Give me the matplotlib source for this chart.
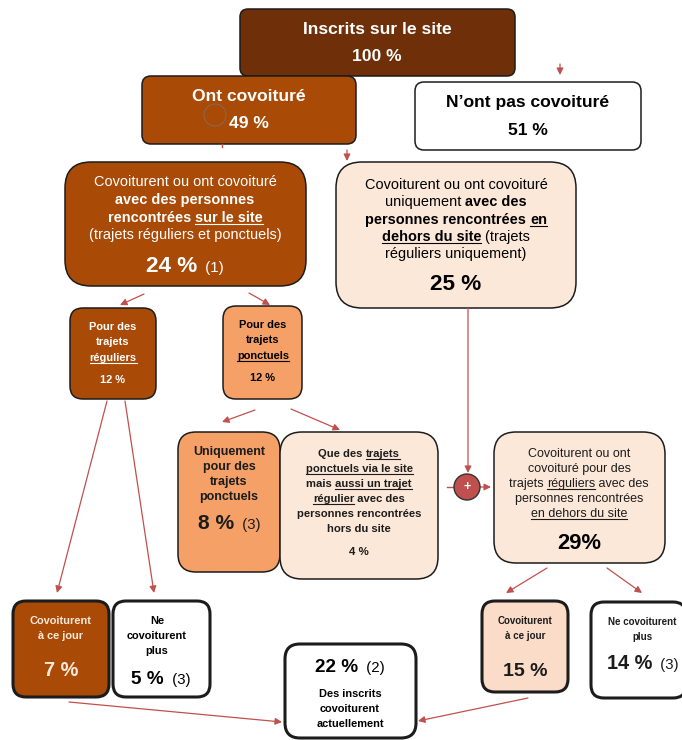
import re
import matplotlib.pyplot as plt
from matplotlib.patches import FancyBboxPatch, FancyArrowPatch, Circle
from matplotlib.font_manager import FontProperties

plt.rcParams['font.family'] = ['Liberation Sans', 'DejaVu Sans']

# percentages shown in the boxes
pct_top = [100, 49, 51]
pct_mid = [24, 25]
pct_trips = [12, 12]
pct_ponct = [8, 4]
pct_outside = 29
pct_end = [7, 5, 15, 14]
pct_now = 22

# box texts, ** toggles bold and __ toggles underline
txt_inscrits = ["Inscrits sur le site"]
txt_ont = ["Ont covoituré"]
txt_nont = ["N’ont pas covoituré"]
txt_site = ["Covoiturent ou ont covoituré", "**avec des personnes**",
            "**rencontrées __sur le site__**", "(trajets réguliers et ponctuels)"]
txt_hors = ["Covoiturent ou ont covoituré", "uniquement **avec des**",
            "**personnes rencontrées __en__**", "**__dehors du site__** (trajets",
            "réguliers uniquement)"]
txt_reg = ["Pour des", "trajets", "__réguliers__"]
txt_pon = ["Pour des", "trajets", "__ponctuels__"]
txt_uniq = ["Uniquement", "pour des", "trajets", "ponctuels"]
txt_que = ["Que des __trajets__", "__ponctuels via le site__", "mais __aussi un trajet__",
           "__régulier__ avec des", "personnes rencontrées", "hors du site"]
txt_29 = ["Covoiturent ou ont", "covoituré pour des", "trajets __réguliers__ avec des",
          "personnes rencontrées", "__en dehors du site__"]
txt_jour = ["Covoiturent", "à ce jour"]
txt_ne = ["Ne", "covoiturent", "plus"]
txt_ne2 = ["Ne covoiturent", "plus"]
txt_act = ["Des inscrits", "covoiturent", "actuellement"]

DARK = '#6f3009'
BROWN = '#a94a07'
ORANGE = '#f4a067'
PALE = '#fce8d9'
PEACH = '#fbdcc9'
RED = '#c0504d'

fig = plt.figure(figsize=(6.82, 7.40), dpi=100)
ax = fig.add_axes([0, 0, 1, 1])
ax.set_xlim(0, 682)
ax.set_ylim(740, 0)
ax.axis('off')
renderer = fig.canvas.get_renderer()


def px_width(s, size, bold):
    # bars on both sides so that the spaces at the ends are counted
    fp = FontProperties(family='Liberation Sans', size=size * 0.72, weight='bold' if bold else 'normal')
    w = renderer.get_text_width_height_descent('|' + s + '|', fp, False)[0]
    w0 = renderer.get_text_width_height_descent('||', fp, False)[0]
    return w - w0


def write(cx, y, line, size, color='black', bold=False, note=None):
    parts = re.split(r'(\*\*|__)', line)
    runs = []
    b, u = bold, False
    for p in parts:
        if p == '**':
            b = not b
        elif p == '__':
            u = not u
        elif p:
            runs.append((p, b, u, size))
    if note:
        runs.append(('  ' + note, False, False, 15))
    widths = [px_width(r[0], r[3], r[1]) for r in runs]
    x = cx - sum(widths) / 2
    for (s, b, u, sz), w in zip(runs, widths):
        ax.text(x, y, s, fontsize=sz * 0.72, color=color, va='baseline', ha='left',
                fontweight='bold' if b else 'normal')
        if u:
            ax.plot([x, x + w], [y + 2, y + 2], color=color, lw=0.8)
        x += w


def box(x0, y0, x1, y1, fill, r=14, lw=1.1):
    ax.add_patch(FancyBboxPatch((x0, y0), x1 - x0, y1 - y0, boxstyle=f'round,pad=0,rounding_size={r}',
                                facecolor=fill, edgecolor='#1c1c1c', linewidth=lw))


def arrow(x0, y0, x1, y1):
    ax.add_patch(FancyArrowPatch((x0, y0), (x1, y1), arrowstyle='-|>', mutation_scale=10, color=RED,
                                 lw=0.9, shrinkA=0, shrinkB=0, zorder=3))


def lines(cx, ys, texts, size, color='black', bold=False):
    for y, t in zip(ys, texts):
        write(cx, y, t, size, color, bold)


# first rows
box(240, 9, 515, 76, DARK, r=8)
lines(377, [34], txt_inscrits, 17.5, 'white', True)
write(377, 61, f"{pct_top[0]} %", 17.5, 'white', True)

box(142, 76, 356, 144, BROWN, r=9)
lines(249, [101], txt_ont, 17.5, 'white', True)
write(249, 128, f"{pct_top[1]} %", 17.5, 'white', True)
ax.add_patch(Circle((215, 115), 11, facecolor='none', edgecolor='#8a6a55', lw=0.7))

box(415, 82, 641, 150, 'white', r=9)
lines(528, [107], txt_nont, 17.5, 'black', True)
write(528, 135, f"{pct_top[2]} %", 17.5, 'black', True)

box(65, 162, 306, 286, BROWN, r=26)
lines(185, [186, 204, 222, 239], txt_site, 14.5, 'white')
write(185, 272, f"{pct_mid[0]} %", 22.5, 'white', True, note='(1)')

box(336, 162, 576, 308, PALE, r=26)
lines(456, [189, 206, 224, 241, 258], txt_hors, 14.5)
write(456, 290, f"{pct_mid[1]} %", 22.5, 'black', True)

# regular / one-off trips
box(70, 308, 156, 399, BROWN, r=13)
lines(113, [330, 345, 361], txt_reg, 11, 'white', True)
write(113, 383, f"{pct_trips[0]} %", 11, 'white', True)

box(223, 306, 302, 399, ORANGE, r=13)
lines(263, [328, 343, 359], txt_pon, 11, 'black', True)
write(263, 381, f"{pct_trips[1]} %", 11, 'black', True)

box(178, 432, 280, 572, ORANGE, r=18)
lines(229, [455, 470, 485, 500], txt_uniq, 12.5, '#1c1c1c', True)
write(229.5, 529, f"{pct_ponct[0]} %", 21, '#1c1c1c', True, note='(3)')

box(280, 432, 438, 579, PALE, r=22)
lines(359, [457, 472, 487, 502, 517, 532], txt_que, 11.2, '#1c1c1c', True)
write(359, 555, f"{pct_ponct[1]} %", 11.5, '#1c1c1c', True)

box(494, 432, 665, 563, PALE, r=22)
lines(579, [457, 472, 487, 502, 517], txt_29, 12.5, '#1c1c1c')
write(579, 549, f"{pct_outside}%", 22, 'black', True)

# bottom row
box(13, 601, 109, 697, BROWN, r=13, lw=2.2)
lines(61, [624, 639], txt_jour, 11, '#fde9d9', True)
write(61, 676, f"{pct_end[0]} %", 20, '#fde9d9', True)

box(113, 601, 210, 697, 'white', r=13, lw=2.2)
lines(157, [624, 639, 654], txt_ne, 11, 'black', True)
write(161, 684, f"{pct_end[1]} %", 19, 'black', True, note='(3)')

box(285, 644, 416, 738, 'white', r=15, lw=2.2)
write(350, 672, f"{pct_now} %", 19, 'black', True, note='(2)')
lines(350, [697, 712, 727], txt_act, 11, 'black', True)

box(482, 601, 568, 692, PEACH, r=13, lw=2.2)
lines(525, [624, 639], txt_jour, 9.8, '#1c1c1c', True)
write(525, 676, f"{pct_end[2]} %", 19.5, '#1c1c1c', True)

box(591, 602, 686, 698, 'white', r=13, lw=2.2)
lines(642, [625, 640], txt_ne2, 9.8, '#1c1c1c', True)
write(643, 669, f"{pct_end[3]} %", 20, '#1c1c1c', True, note='(3)')

# arrows
arrow(560, 64, 560, 75)
arrow(347, 150, 347, 161)
ax.plot([222, 222], [144, 147], color=RED, lw=1)
arrow(144, 294, 120, 305)
arrow(249, 293, 270, 305)
arrow(107, 401, 57, 593)
arrow(125, 401, 154, 593)
arrow(255, 410, 222, 422)
arrow(291, 409, 340, 430)
arrow(468, 308, 468, 473)
ax.plot([447, 455], [487, 487], color=RED, lw=1)
arrow(480, 487, 491, 487)
arrow(547, 568, 506, 593)
arrow(607, 568, 642, 593)
arrow(69, 702, 282, 722)
arrow(528, 698, 418, 721)

ax.add_patch(Circle((467, 487), 13, facecolor=RED, edgecolor='#333333', lw=1, zorder=4))
ax.text(467, 487, '+', color='white', fontsize=9, fontweight='bold', ha='center', va='center', zorder=5)

fig.savefig('out.png', dpi=100)
